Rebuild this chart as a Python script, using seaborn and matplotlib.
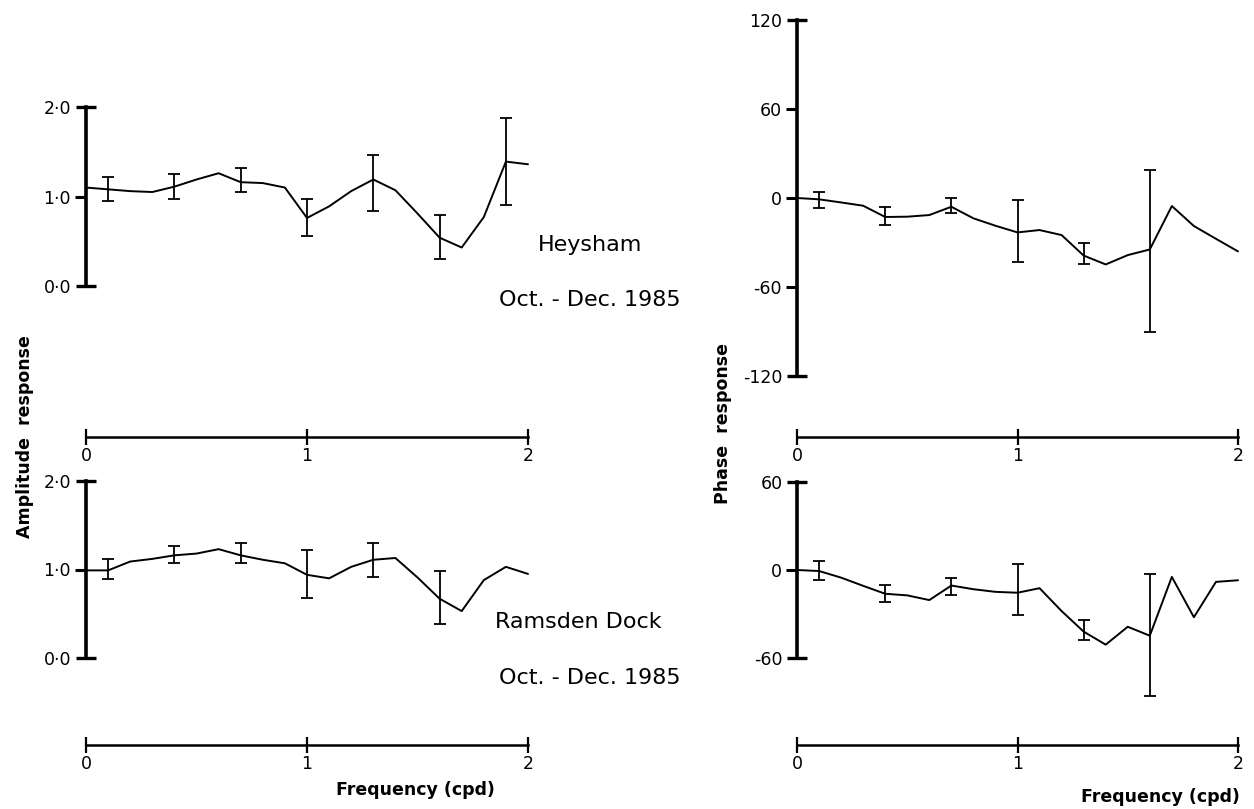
import matplotlib
matplotlib.use("Agg")
import matplotlib.pyplot as plt
import seaborn as sns
import pandas as pd

# Frequency grid (cycles per day)
freq = [0.0, 0.1, 0.2, 0.3, 0.4, 0.5, 0.6, 0.7, 0.8, 0.9, 1.0,
        1.1, 1.2, 1.3, 1.4, 1.5, 1.6, 1.7, 1.8, 1.9, 2.0]

# Heysham, Oct.-Dec. 1985
heysham_amp = [1.10, 1.08, 1.06, 1.05, 1.11, 1.19, 1.26, 1.16, 1.15, 1.10, 0.76,
               0.89, 1.06, 1.19, 1.07, 0.81, 0.54, 0.43, 0.77, 1.39, 1.36]
heysham_amp_err_freq = [0.1, 0.4, 0.7, 1.0, 1.3, 1.6, 1.9]
heysham_amp_lo = [0.95, 0.97, 1.05, 0.56, 0.84, 0.30, 0.90]
heysham_amp_hi = [1.22, 1.25, 1.32, 0.97, 1.46, 0.79, 1.88]

heysham_phase = [0.0, -0.9, -3.0, -5.2, -12.8, -12.6, -11.5, -5.9, -13.7, -18.7, -23.2,
                 -21.6, -25.0, -38.8, -44.8, -38.5, -34.7, -5.4, -18.9, -27.5, -36.0]
heysham_phase_err_freq = [0.1, 0.4, 0.7, 1.0, 1.3, 1.6]
heysham_phase_lo = [-6.5, -18.0, -9.9, -43.0, -44.6, -90.4]
heysham_phase_hi = [4.0, -5.9, 0.0, -1.4, -30.2, 18.9]

# Ramsden Dock, Oct.-Dec. 1985
ramsden_amp = [0.99, 0.99, 1.09, 1.12, 1.16, 1.18, 1.23, 1.16, 1.11, 1.07, 0.94,
               0.90, 1.03, 1.11, 1.13, 0.91, 0.67, 0.53, 0.88, 1.03, 0.95]
ramsden_amp_err_freq = [0.1, 0.4, 0.7, 1.0, 1.3, 1.6]
ramsden_amp_lo = [0.89, 1.07, 1.07, 0.68, 0.92, 0.38]
ramsden_amp_hi = [1.12, 1.26, 1.30, 1.22, 1.30, 0.98]

ramsden_phase = [0.0, -0.7, -5.2, -10.8, -16.2, -17.3, -20.5, -10.6, -13.1, -14.9, -15.5,
                 -12.4, -28.0, -42.0, -50.9, -38.7, -44.8, -4.7, -32.2, -8.1, -7.0]
ramsden_phase_err_freq = [0.1, 0.4, 0.7, 1.0, 1.3, 1.6]
ramsden_phase_lo = [-6.8, -21.6, -16.9, -30.6, -47.5, -85.6]
ramsden_phase_hi = [6.3, -9.9, -5.4, 3.8, -34.2, -2.9]

# Axis tick values and labels
amp_ticks = [0.0, 1.0, 2.0]
amp_ticklabels = ["0·0", "1·0", "2·0"]
phase_ticks_top = [-120, -60, 0, 60, 120]
phase_ticks_bottom = [-60, 0, 60]
freq_ticks = [0, 1, 2]
freq_ticklabels = ["0", "1", "2"]

sns.set_style("white")
plt.rcParams["font.family"] = ["DejaVu Sans"]

W, H = 1254, 809
fig = plt.figure(figsize=(W / 100, H / 100), dpi=100)


def make_panel(x0, x2, ytop_px, ybot_px, xaxis_px, yticks, ylabels):
    """Axes whose y-axis runs from yticks[-1] (at ytop_px) to yticks[0] (at ybot_px)
    and whose detached frequency axis sits at xaxis_px."""
    ytop_val, ybot_val = yticks[-1], yticks[0]
    scale = (ybot_px - ytop_px) / (ytop_val - ybot_val)
    ylow = ybot_val - (xaxis_px - ybot_px) / scale
    ax = fig.add_axes([x0 / W, 1 - xaxis_px / H, (x2 - x0) / W, (xaxis_px - ytop_px) / H])
    ax.set_xlim(0, 2)
    ax.set_ylim(ylow, ytop_val)
    ax.set_facecolor("none")
    for s in ("top", "right"):
        ax.spines[s].set_visible(False)
    ax.spines["left"].set_bounds(ybot_val, ytop_val)
    ax.spines["left"].set_linewidth(2.6)
    ax.spines["bottom"].set_bounds(0, 2)
    ax.spines["bottom"].set_linewidth(1.8)
    for s in ("left", "bottom"):
        ax.spines[s].set_color("black")
    # end ticks cross the axis, inner ticks point outward only
    ax.set_yticks([ybot_val, ytop_val], labels=[ylabels[0], ylabels[-1]])
    ax.set_yticks(yticks[1:-1], labels=ylabels[1:-1], minor=True)
    ax.tick_params(axis="y", which="major", left=True, direction="inout", length=15,
                   width=2.4, labelsize=12.5, pad=3, colors="black")
    ax.tick_params(axis="y", which="minor", left=True, direction="out", length=8,
                   width=2.2, labelsize=12.5, pad=3, colors="black")
    ax.set_xticks(freq_ticks, labels=freq_ticklabels)
    ax.tick_params(axis="x", which="major", bottom=True, direction="inout", length=12,
                   width=1.6, labelsize=12.5, pad=1, colors="black")
    ax.set_xlabel("")
    ax.set_ylabel("")
    return ax


def draw(ax, values, err_freq, lo, hi):
    df = pd.DataFrame({"freq": freq, "value": values})
    sns.lineplot(data=df, x="freq", y="value", ax=ax, color="black", lw=1.4,
                 clip_on=False)
    mid = [values[freq.index(f)] for f in err_freq]
    yerr = [[m - l for m, l in zip(mid, lo)], [h - m for m, h in zip(mid, hi)]]
    ax.errorbar(err_freq, mid, yerr=yerr, fmt="none", ecolor="black",
                elinewidth=1.3, capsize=4, capthick=1.3, clip_on=False)
    ax.set_xlabel("")
    ax.set_ylabel("")


ax_tl = make_panel(86, 528, 107, 286, 437, amp_ticks, amp_ticklabels)
draw(ax_tl, heysham_amp, heysham_amp_err_freq, heysham_amp_lo, heysham_amp_hi)

ax_bl = make_panel(86, 528, 481, 658, 745, amp_ticks, amp_ticklabels)
draw(ax_bl, ramsden_amp, ramsden_amp_err_freq, ramsden_amp_lo, ramsden_amp_hi)

ax_tr = make_panel(797, 1238, 20, 376, 437, phase_ticks_top,
                   [str(v) for v in phase_ticks_top])
draw(ax_tr, heysham_phase, heysham_phase_err_freq, heysham_phase_lo, heysham_phase_hi)

ax_br = make_panel(797, 1238, 482, 658, 745, phase_ticks_bottom,
                   [str(v) for v in phase_ticks_bottom])
draw(ax_br, ramsden_phase, ramsden_phase_err_freq, ramsden_phase_lo, ramsden_phase_hi)


def ftext(x, y, s, **kw):
    fig.text(x / W, 1 - y / H, s, ha="center", va="center", color="black", **kw)


ftext(590, 245, "Heysham", fontsize=16)
ftext(590, 300, "Oct. - Dec. 1985", fontsize=16)
ftext(578, 622, "Ramsden Dock", fontsize=16)
ftext(590, 678, "Oct. - Dec. 1985", fontsize=16)
ftext(415, 790, "Frequency (cpd)", fontsize=12.5, fontweight="bold")
ftext(1160, 797, "Frequency (cpd)", fontsize=12.5, fontweight="bold")
ftext(25, 437, "Amplitude  response", fontsize=12.5, fontweight="bold", rotation=90)
ftext(723, 423, "Phase  response", fontsize=12.5, fontweight="bold", rotation=90)

fig.savefig("out.png", dpi=100, facecolor="white")
